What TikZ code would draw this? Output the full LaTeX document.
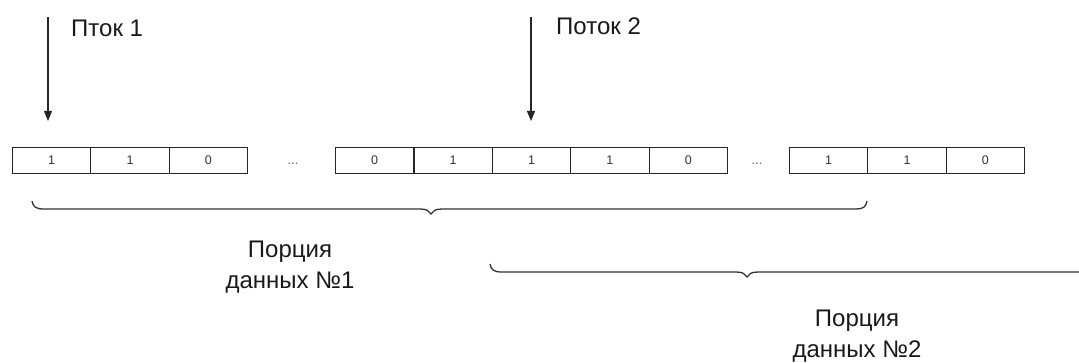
\documentclass[tikz,border=0pt]{standalone}
\usepackage{fontspec}
\setmainfont{Liberation Sans}
\usetikzlibrary{arrows.meta}

\tikzset{
  cell/.style={draw=black!85, line width=1.1pt, minimum width=78.3pt, minimum height=26pt,
    inner sep=0pt, anchor=north west, font=\fontsize{12.5}{14}\selectfont, text=black!80},
  flow/.style={draw=black!85, line width=1.2pt, -{Triangle[length=10pt,width=8pt]}},
  label/.style={font=\fontsize{24}{31}\selectfont, text=black!90, inner sep=0pt},
  gap/.style={font=\fontsize{13}{15}\selectfont, text=black!60, anchor=base, inner sep=0pt},
  bracket/.style={draw=black!80, line width=1.3pt}
}

\begin{document}
\begin{tikzpicture}[x=1pt,y=-1pt]

\useasboundingbox (0,0) rectangle (1079,363);

% memory cells
\foreach \x/\v [count=\i] in {12/1, 90.3/1, 168.6/0,
                              335/0, 413.4/1, 491.8/1, 570.2/1, 648.6/0,
                              789/1, 867.3/1, 945.6/0}
  \node[cell] (c\i) at (\x,147) {\v};

\node[gap] (g1) at (293,165) {...};
\node[gap] (g2) at (757,165) {...};

% streams
\coordinate (p1) at (48,17);
\coordinate (q1) at (48,121);
\coordinate (p2) at (531,17);
\coordinate (q2) at (531,121);
\draw[flow] (p1) -- (q1);
\draw[flow] (p2) -- (q2);

\node[label, anchor=base west] (s1) at (71,37) {Пток 1};
\node[label, anchor=base west] (s2) at (556,35) {Поток 2};

% portions
\draw[bracket] (32,201) .. controls (33,207) and (36,209) .. (44,209)
  -- (420,209) .. controls (427,209) and (429,211) .. (431,214)
  .. controls (433,211) and (435,209) .. (442,209)
  -- (856,209) .. controls (863,209) and (866,207) .. (867,201);
\draw[bracket] (490,264) .. controls (491,270) and (494,272) .. (502,272)
  -- (736,272) .. controls (743,272) and (745,274) .. (747,277)
  .. controls (749,274) and (751,272) .. (758,272)
  -- (1080,272);

\node[label, align=center] (d1) at (290,267.5) {Порция\\данных №1};
\node[label, align=center] (d2) at (857,336.4) {Порция\\данных №2};

\end{tikzpicture}
\end{document}
